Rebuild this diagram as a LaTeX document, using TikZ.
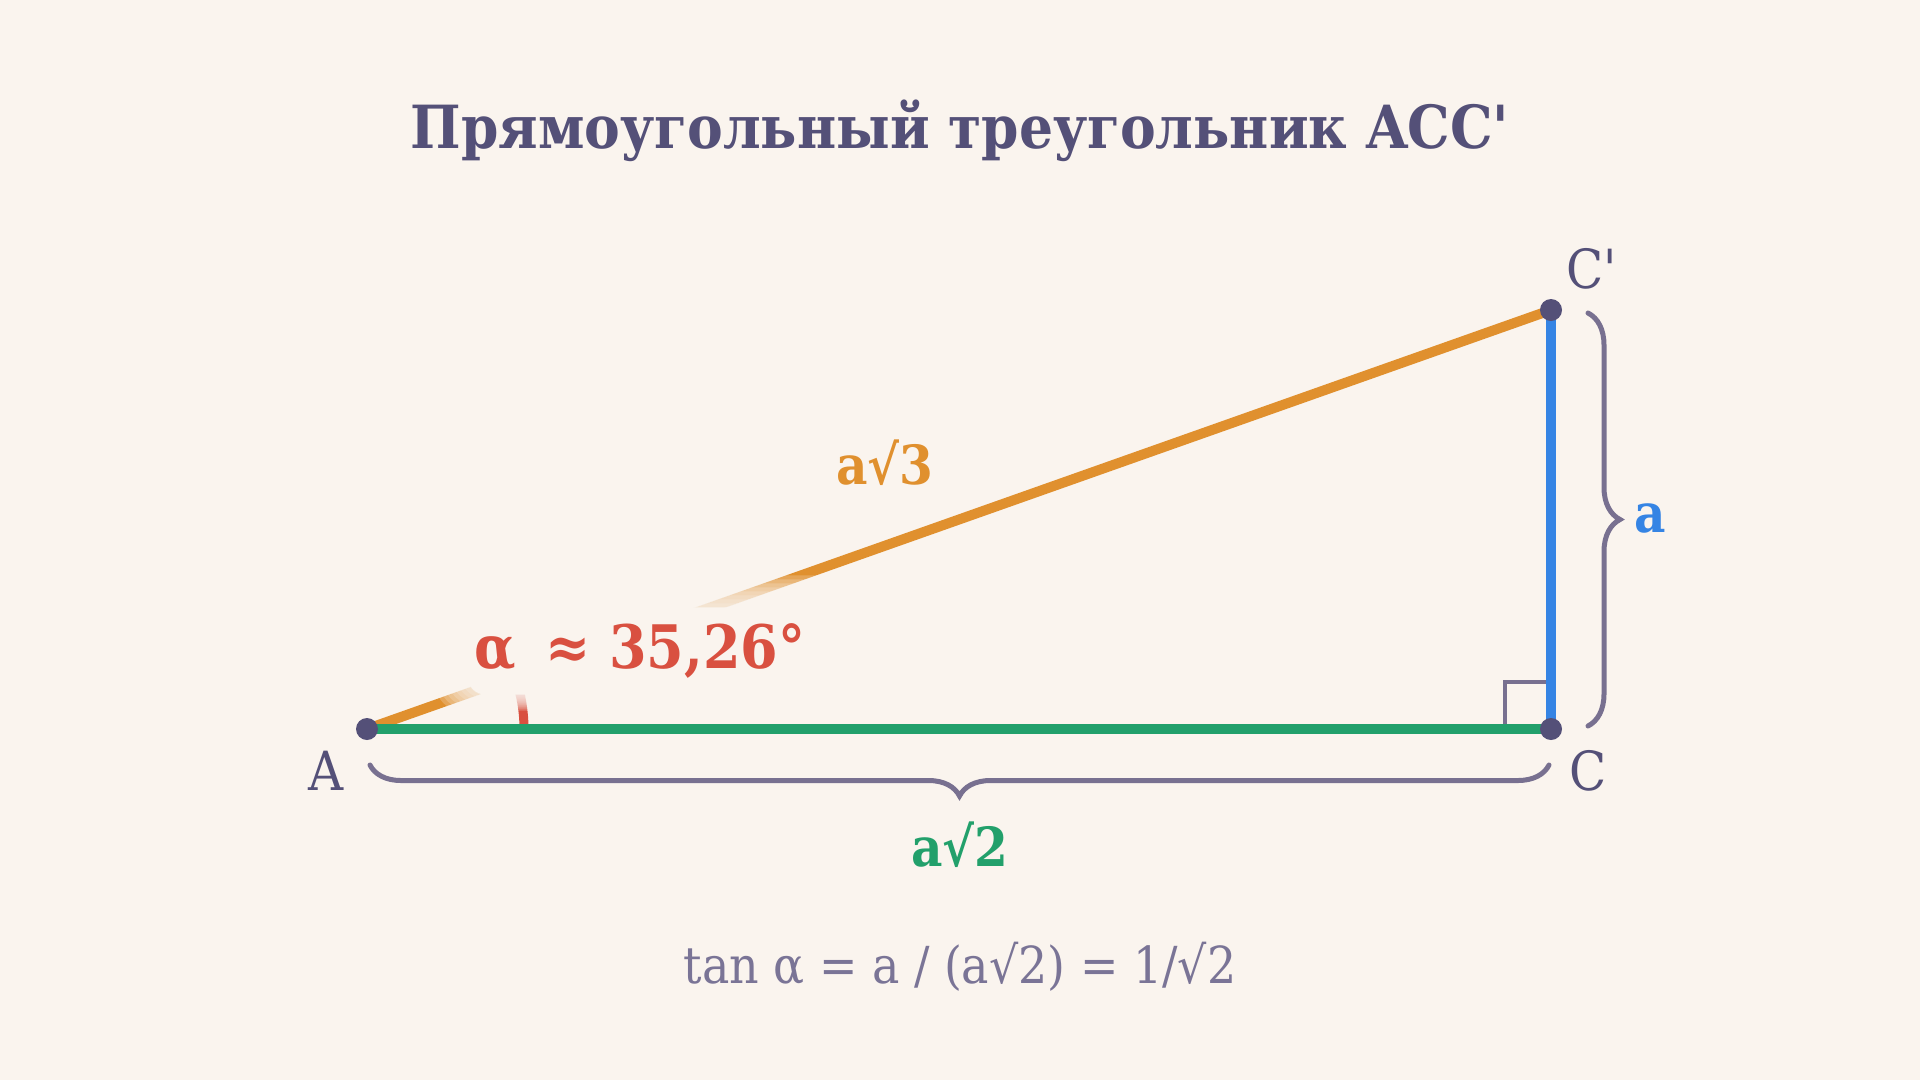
\documentclass[tikz,border=0pt]{standalone}
\usepackage{fontspec}
\setmainfont[Ligatures=TeXOff]{DejaVu Serif Condensed}
\usetikzlibrary{decorations.pathreplacing,calc}
\definecolor{bg}{HTML}{FAF4EE}
\definecolor{ink}{HTML}{545078}
\definecolor{hyp}{HTML}{E0902E}
\definecolor{base}{HTML}{22A06B}
\definecolor{vert}{HTML}{3584E4}
\definecolor{ang}{HTML}{D95040}
\definecolor{brc}{HTML}{787090}
\definecolor{frm}{HTML}{7A7496}
\tikzset{
  side/.style={line width=10pt, line cap=butt},
  pt/.style={circle, fill=ink, inner sep=0pt, minimum size=22pt},
  vlabel/.style={text=ink, font=\fontsize{54}{60}\selectfont},
  slabel/.style={font=\bfseries\fontsize{54}{60}\selectfont},
  bracestyle/.style={draw=brc, line width=5pt, line cap=round, decorate},
  haze/.style={fill=bg, opacity=0.22, rounded corners=26pt},
}
\begin{document}
\begin{tikzpicture}[x=1pt,y=-1pt]
\fill[bg] (0,0) rectangle (1920,1080);
\useasboundingbox (0,0) rectangle (1920,1080);

\node[text=ink, font=\bfseries\fontsize{59.5}{64}\selectfont] (title) at (960,131) {Прямоугольный треугольник ACC'};

\coordinate (A) at (367,729);
\coordinate (C) at (1551,729);
\coordinate (Cp) at (1551,310);

% right angle mark
\draw[brc, line width=3.5pt] (1505,729) -- (1505,682) -- (1551,682);

\draw[side, hyp] (A) -- (Cp);

% angle arc
\draw[ang, line width=9pt] (A) ++(157,0) arc[start angle=0, end angle=-19.47, radius=157];

% angle label with hazy background
\node[font=\bfseries\fontsize{60}{66}\selectfont, inner xsep=12pt, inner ysep=16pt] (alphabox) at (640,651) {\phantom{α ≈ 35,26°}};
\foreach \d in {32,28,24,20,16,12,8,4}{
  \fill[haze] ($(alphabox.south west)+(-\d,0.5*\d)$) rectangle ($(alphabox.north east)+(\d,-\d)$);
}
\fill[bg, rounded corners=18pt] (alphabox.south west) rectangle (alphabox.north east);
\node[text=ang, font=\bfseries\fontsize{60}{66}\selectfont] (alpha) at (alphabox.center) {α\, ≈ 35,26°};

\draw[side, base] (A) -- (C);
\draw[side, vert] (C) -- (Cp);

% points
\node[pt] (pA) at (A) {};
\node[pt] (pC) at (C) {};
\node[pt] (pCp) at (Cp) {};

% vertex labels
\node[vlabel] (lA) at (326,771) {A};
\node[vlabel] (lC) at (1588,771) {C};
\node[vlabel] (lCp) at (1592,269) {C'};

% braces
\draw[bracestyle, decoration={brace, amplitude=31pt}] (1549,765) -- (370,765);
\draw[bracestyle, decoration={brace, amplitude=32pt}] (1588,313) -- (1588,726);

% side labels
\node[slabel, text=hyp] (lhyp) at (885,463) {a√3};
\node[slabel, text=base] (lbase) at (960,845) {a√2};
\node[slabel, text=vert] (lvert) at (1650,518) {a};

% formula
\node[text=frm, font=\fontsize{51}{58}\selectfont] (formula) at (960,967) {tan α = a / (a√2) = 1/√2};
\end{tikzpicture}
\end{document}
